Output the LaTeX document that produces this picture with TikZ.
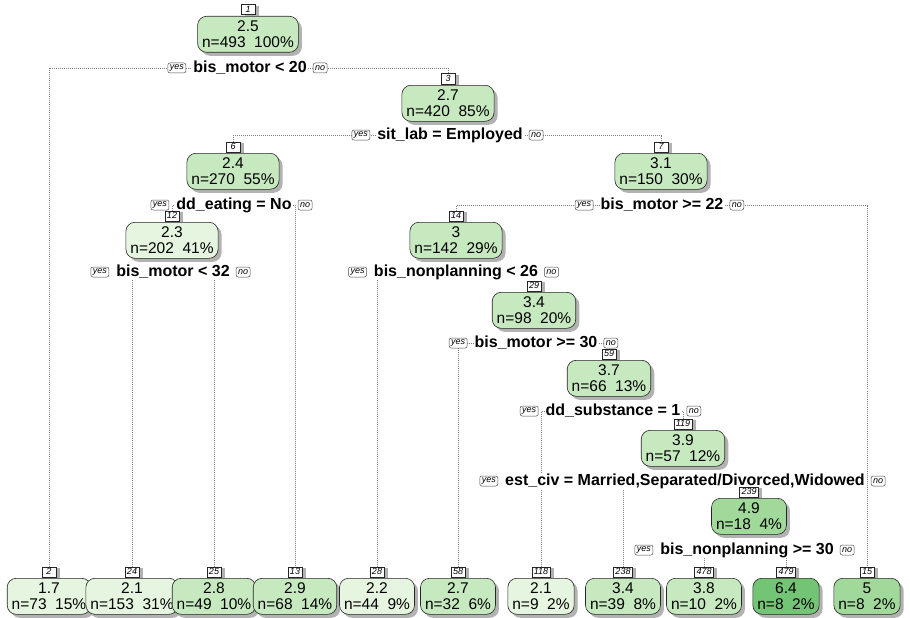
\documentclass[tikz,border=0pt]{standalone}
\usepackage{fontspec}
\setmainfont{Liberation Sans}
\usetikzlibrary{shadows,backgrounds}
\definecolor{g1}{HTML}{E5F5E0}
\definecolor{g2}{HTML}{C7E9C0}
\definecolor{g3}{HTML}{A1D99B}
\definecolor{g4}{HTML}{74C476}
\begin{document}
\begin{tikzpicture}[x=1pt,y=-1pt,
 conn/.style={draw=black!50, line width=0.5pt, dash pattern=on 0.6pt off 1.4pt},
 nbox/.style={draw=black!85, line width=0.6pt, rounded corners=9pt, minimum height=36pt,
   inner xsep=4.5pt, inner ysep=1pt, align=center, anchor=north,
   font=\fontsize{15.5}{15.5}\selectfont,
   drop shadow={shadow xshift=3.5pt, shadow yshift=-3.5pt, fill=black!30, opacity=1}},
 numlab/.style={draw=black!85, fill=white, line width=0.5pt, font=\fontsize{9}{9}\selectfont\itshape,
   inner xsep=2pt, inner ysep=0pt, minimum width=14pt, minimum height=10pt, anchor=south,
   drop shadow={shadow xshift=3.5pt, shadow yshift=-1pt, fill=black!30, opacity=1}},
 split/.style={font=\fontsize{16}{16}\selectfont\bfseries, fill=white, inner sep=1pt},
 yn/.style={draw=black!70, fill=white, line width=0.5pt, rounded corners=2pt,
   font=\fontsize{9}{9}\selectfont\itshape, inner xsep=2pt, inner ysep=0.8pt, minimum height=10pt}
]
\useasboundingbox (0,0) rectangle (910,618);

% ---------- internal nodes ----------
\node[nbox, fill=g2] (n1) at (248,16) {2.5\\n=493\ \ 100\%};
\node[numlab] (l1) at (248,15) {1};
\node[split] (s1) at (250,68) {bis\_motor < 20};

\node[nbox, fill=g2] (n3) at (448,85) {2.7\\n=420\ \ 85\%};
\node[numlab] (l3) at (448,84) {3};
\node[split] (s3) at (450,135) {sit\_lab = Employed};

\node[nbox, fill=g2] (n6) at (233,153) {2.4\\n=270\ \ 55\%};
\node[numlab] (l6) at (233,152) {6};
\node[split] (s6) at (234,205) {dd\_eating = No};

\node[nbox, fill=g2] (n7) at (661,153) {3.1\\n=150\ \ 30\%};
\node[numlab] (l7) at (661,152) {7};
\node[split] (s7) at (662,205) {bis\_motor >= 22};

\node[nbox, fill=g1] (n12) at (172,222) {2.3\\n=202\ \ 41\%};
\node[numlab] (l12) at (172,221) {12};
\node[split] (s12) at (173,272) {bis\_motor < 32};

\node[nbox, fill=g2] (n14) at (456,222) {3\\n=142\ \ 29\%};
\node[numlab] (l14) at (456,221) {14};
\node[split] (s14) at (456,272) {bis\_nonplanning < 26};

\node[nbox, fill=g2] (n29) at (534,292) {3.4\\n=98\ \ 20\%};
\node[numlab] (l29) at (534,291) {29};
\node[split] (s29) at (536,343) {bis\_motor >= 30};

\node[nbox, fill=g2] (n59) at (609,360) {3.7\\n=66\ \ 13\%};
\node[numlab] (l59) at (609,359) {59};
\node[split] (s59) at (613,411) {dd\_substance = 1};

\node[nbox, fill=g2] (n119) at (683,430) {3.9\\n=57\ \ 12\%};
\node[numlab] (l119) at (683,429) {119};
\node[split] (s119) at (685,481) {est\_civ = Married,Separated/Divorced,Widowed};

\node[nbox, fill=g3] (n239) at (749,498) {4.9\\n=18\ \ 4\%};
\node[numlab] (l239) at (749,497) {239};
\node[split] (s239) at (747,550) {bis\_nonplanning >= 30};

% ---------- yes / no labels ----------
\foreach \s in {1,3,6,7,12,14,29,59,119,239}{
  \node[yn, anchor=east] (y\s) at ([xshift=-6pt]s\s.west) {yes};
  \node[yn, anchor=west] (o\s) at ([xshift=5pt]s\s.east) {no};
}

% ---------- leaves ----------
\node[nbox, fill=g1] (n2) at (49,578) {1.7\\n=73\ \ 15\%};
\node[numlab] (l2) at (49,577) {2};
\node[nbox, fill=g1] (n24) at (132,578) {2.1\\n=153\ \ 31\%};
\node[numlab] (l24) at (132,577) {24};
\node[nbox, fill=g2] (n25) at (214,578) {2.8\\n=49\ \ 10\%};
\node[numlab] (l25) at (214,577) {25};
\node[nbox, fill=g2] (n13) at (295,578) {2.9\\n=68\ \ 14\%};
\node[numlab] (l13) at (295,577) {13};
\node[nbox, fill=g1] (n28) at (377,578) {2.2\\n=44\ \ 9\%};
\node[numlab] (l28) at (377,577) {28};
\node[nbox, fill=g2] (n58) at (458,578) {2.7\\n=32\ \ 6\%};
\node[numlab] (l58) at (458,577) {58};
\node[nbox, fill=g1] (n118) at (541,578) {2.1\\n=9\ \ 2\%};
\node[numlab] (l118) at (541,577) {118};
\node[nbox, fill=g2] (n238) at (623,578) {3.4\\n=39\ \ 8\%};
\node[numlab] (l238) at (623,577) {238};
\node[nbox, fill=g2] (n478) at (704,578) {3.8\\n=10\ \ 2\%};
\node[numlab] (l478) at (704,577) {478};
\node[nbox, fill=g4] (n479) at (786,578) {6.4\\n=8\ \ 2\%};
\node[numlab] (l479) at (786,577) {479};
\node[nbox, fill=g3] (n15) at (867,578) {5\\n=8\ \ 2\%};
\node[numlab] (l15) at (867,577) {15};

% ---------- connectors ----------
\begin{pgfonlayer}{background}
\draw[conn] (l2.north) |- (s1.center) -| (l3.north);
\draw[conn] (l6.north) |- (s3.center) -| (l7.north);
\draw[conn] (l12.north) |- (s6.center) -| (l13.north);
\draw[conn] (l24.north) |- (s12.center) -| (l25.north);
\draw[conn] (l14.north) |- (s7.center) -| (l15.north);
\draw[conn] (l28.north) |- (s14.center) -| (l29.north);
\draw[conn] (l58.north) |- (s29.center) -| (l59.north);
\draw[conn] (l118.north) |- (s59.center) -| (l119.north);
\draw[conn] (l238.north) |- (s119.center) -| (l239.north);
\draw[conn] (l478.north) |- (s239.center) -| (l479.north);
\end{pgfonlayer}
\end{tikzpicture}
\end{document}
